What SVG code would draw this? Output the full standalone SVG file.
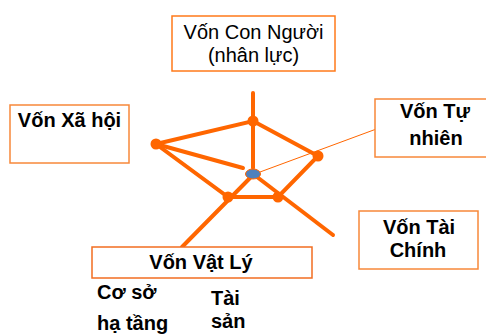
<svg xmlns="http://www.w3.org/2000/svg" width="486" height="335" viewBox="0 0 486 335">
  <style>
    .box { fill: #ffffff; stroke: #F7883A; stroke-width: 1.5; }
    .t { font-family: "Liberation Sans", Arial, sans-serif; font-size: 20px; fill: #000000; }
    .b { font-weight: bold; }
    .mid { text-anchor: middle; }
    .edge { stroke: #FF6600; stroke-width: 4; fill: none; stroke-linecap: round; }
    .thin { stroke: #FF6600; stroke-width: 1; fill: none; }
    .vertex { fill: #FF6600; }
  </style>

  <rect width="486" height="335" fill="#ffffff"/>

  <!-- spider figure: spokes and pentagon -->
  <g id="connectors">
    <line class="edge" x1="253" y1="93" x2="253" y2="168"/>
    <line class="edge" x1="156" y1="144" x2="243" y2="168"/>
    <line class="edge" x1="250" y1="178" x2="182" y2="247"/>
    <line class="edge" x1="257" y1="177" x2="333" y2="235"/>
    <line class="thin" x1="260" y1="172" x2="375" y2="129.5"/>
    <polygon class="edge" points="253,121 318,156 278,197 228,197 156,144"/>
    <circle class="vertex" cx="253" cy="121" r="5.5"/>
    <circle class="vertex" cx="318" cy="156" r="5.5"/>
    <circle class="vertex" cx="278" cy="197" r="5.5"/>
    <circle class="vertex" cx="228" cy="197" r="5.5"/>
    <circle class="vertex" cx="156" cy="144" r="5.5"/>
    <ellipse cx="253" cy="174" rx="7.5" ry="5" fill="#4F81BD" stroke="#FF6600" stroke-width="1"/>
  </g>

  <g id="von-con-nguoi">
    <rect class="box" x="172" y="16" width="163" height="55" style="stroke:#FF7A1A"/>
    <text class="t mid" x="253.5" y="39">Vốn Con Người</text>
    <text class="t mid" x="253.5" y="62">(nhân lực)</text>
  </g>

  <g id="von-xa-hoi">
    <rect class="box" x="10" y="105" width="119" height="58"/>
    <text class="t b mid" x="69.5" y="127">Vốn Xã hội</text>
  </g>

  <g id="von-tu-nhien">
    <rect class="box" x="375" y="99" width="120" height="58"/>
    <text class="t b mid" x="435" y="118">Vốn Tự</text>
    <text class="t b mid" x="436" y="145">nhiên</text>
  </g>

  <g id="von-tai-chinh">
    <rect class="box" x="359" y="211" width="119" height="58"/>
    <text class="t b mid" x="419" y="234">Vốn Tài</text>
    <text class="t b mid" x="418" y="257">Chính</text>
  </g>

  <g id="von-vat-ly">
    <rect class="box" x="92" y="247" width="220" height="31" style="stroke:#F26D21"/>
    <text class="t b mid" x="201" y="269">Vốn Vật Lý</text>
  </g>

  <g id="co-so-ha-tang">
    <text class="t b" x="97" y="299">Cơ sở</text>
    <text class="t b" x="97" y="330">hạ tầng</text>
  </g>

  <g id="tai-san">
    <text class="t b" x="211" y="305">Tài</text>
    <text class="t b" x="211" y="328">sản</text>
  </g>
</svg>
